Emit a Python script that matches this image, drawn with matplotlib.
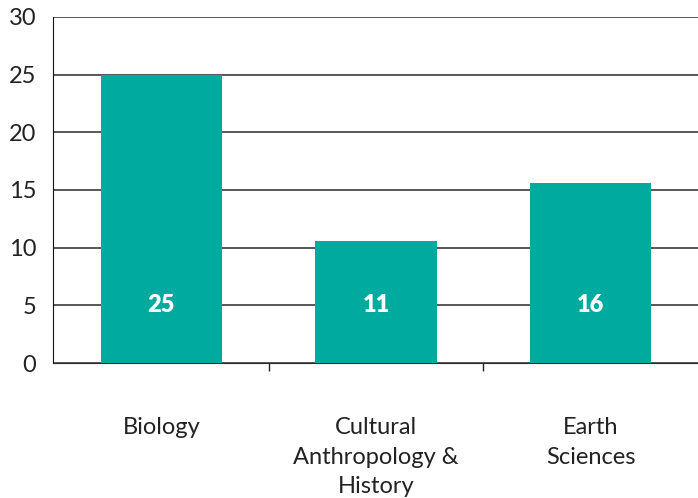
import matplotlib
matplotlib.use('Agg')
import matplotlib.pyplot as plt
import numpy as np

plt.rcParams['font.family'] = ['Lato', 'DejaVu Sans']

# Data
categories = ['Biology', 'Cultural\nAnthropology &\nHistory', 'Earth\nSciences']
values = [25, 10.6, 15.6]
labels = ['25', '11', '16']

teal = '#00AA9E'

fig = plt.figure(figsize=(6.98, 4.98), dpi=100)
ax = fig.add_axes([0.076, 0.271, 0.924, 0.695])

x = np.arange(len(categories))
ax.bar(x, values, width=0.565, color=teal, zorder=2)

for xi, lab in zip(x, labels):
    ax.text(xi, 5, lab, ha='center', va='center', color='white',
            fontsize=17, fontweight='heavy', zorder=3)

ax.set_ylim(0, 30)
ax.set_xlim(-0.505, 2.5)
ax.set_yticks(np.arange(0, 31, 5))
ax.yaxis.grid(True, color='#2a2a2a', linewidth=1.1, zorder=1)
ax.set_axisbelow(True)

ax.set_xticks(x)
ax.set_xticklabels(categories, fontsize=17, linespacing=1.5)
ax.set_xticks([0.5, 1.5], minor=True)
ax.tick_params(axis='x', which='major', length=0, pad=39, colors='#222222')
ax.tick_params(axis='x', which='minor', length=6, width=1, color='#222222')
ax.tick_params(axis='y', length=0, pad=12, labelsize=17, colors='#222222')

for side in ['top', 'right']:
    ax.spines[side].set_visible(False)
ax.spines['left'].set_color('#111111')
ax.spines['bottom'].set_color('#2a2a2a')
ax.spines['bottom'].set_zorder(1)

fig.savefig('out.png', dpi=100)
